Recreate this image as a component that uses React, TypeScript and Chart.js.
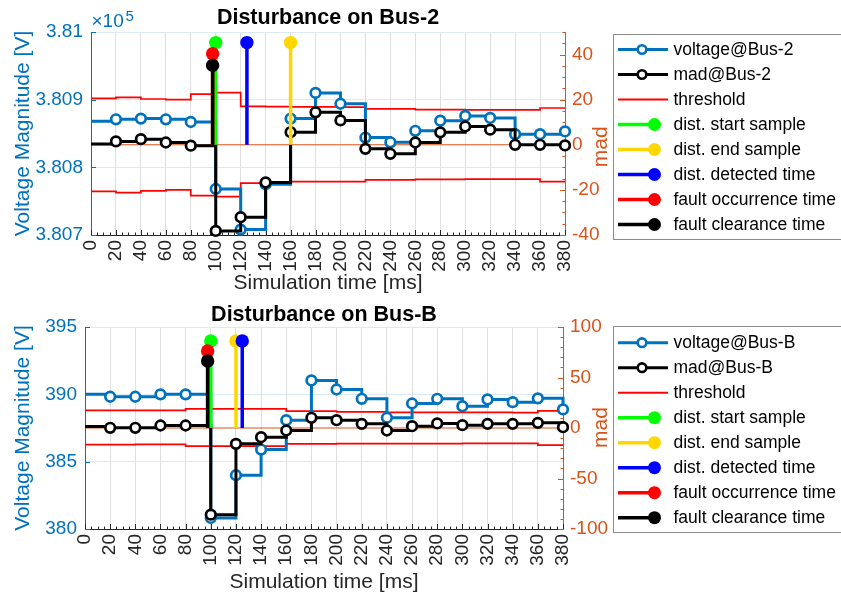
import React, { useEffect, useRef } from "react";
import { Chart, registerables } from "chart.js";

Chart.register(...registerables);

// ---------------- data ----------------
const timeMs = [0, 20, 40, 60, 80, 100, 120, 140, 160, 180, 200, 220, 240, 260, 280, 300, 320, 340, 360, 380];

const bus2Voltage = [380868, 380871, 380872, 380871, 380867, 380768, 380708, 380775, 380872, 380910, 380894, 380844, 380837, 380854, 380869, 380876, 380873, 380849, 380849, 380853];
const bus2Mad = [0.4, 1.5, 2.5, 1.0, -0.4, -38.2, -32.1, -16.7, 5.6, 14.4, 10.8, -1.8, -4.0, 1.0, 5.5, 8.1, 6.7, 0.0, 0.0, -0.3];
const bus2ThresholdUpper = [20.6, 21.0, 20.3, 20.0, 22.5, 23.1, 17.0, 16.9, 16.8, 16.8, 16.7, 15.9, 15.9, 15.6, 15.6, 15.5, 15.5, 15.5, 16.3, 16.3];
const bus2ThresholdLower = [-20.7, -21.2, -20.4, -20.0, -22.5, -23.0, -17.0, -16.7, -16.3, -16.3, -16.3, -15.6, -15.6, -15.3, -15.3, -15.2, -15.2, -15.2, -16.3, -16.3];
const bus2EventTimes = [100, 160, 125, 97.5, 97.5];
const bus2EventLevels = [45.3, 45.3, 45.3, 40.4, 35.2];

const busBVoltage = [390.0, 389.82, 389.82, 390.0, 390.0, 380.82, 383.99, 385.9, 388.08, 391.03, 390.36, 389.67, 388.26, 389.32, 389.67, 389.12, 389.62, 389.42, 389.7, 388.88];
const busBMad = [1.5, 0.2, 0.2, 2.5, 2.5, -85.8, -15.7, -9.1, -2.5, 10.1, 7.7, 4.1, -2.5, 1.8, 4.5, 2.8, 4.1, 4.1, 5.1, 0.8];
const busBThresholdUpper = [17.4, 17.4, 17.4, 17.4, 19.0, 19.0, 19.0, 19.0, 16.7, 16.7, 16.0, 16.0, 15.5, 15.5, 15.5, 15.4, 15.4, 15.3, 17.0, 17.0];
const busBThresholdLower = [-16.4, -16.4, -16.2, -16.2, -18.0, -18.0, -18.0, -18.0, -15.8, -15.8, -15.5, -15.5, -15.4, -15.4, -15.4, -15.3, -15.3, -15.3, -17.0, -17.0];
const busBEventTimes = [100, 120, 125, 97.5, 97.5];
const busBEventLevels = [86.1, 86.1, 86.1, 76.2, 66.3];

const eventNames = ["dist. start sample", "dist. end sample", "dist. detected time", "fault occurrence time", "fault clearance time"];

const xTickValues = [0, 20, 40, 60, 80, 100, 120, 140, 160, 180, 200, 220, 240, 260, 280, 300, 320, 340, 360, 380];
const bus2LeftTicks = [380700, 380800, 380900, 381000];
const bus2LeftTickLabels = ["3.807", "3.808", "3.809", "3.81"];
const bus2RightTicks = [-40, -20, 0, 20, 40];
const busBLeftTicks = [380, 385, 390, 395];
const busBLeftTickLabels = ["380", "385", "390", "395"];
const busBRightTicks = [-100, -50, 0, 50, 100];

// ---------------- styles ----------------
const FONT = "'Liberation Sans', Arial, Helvetica, sans-serif";
const BLUE = "#0072BD";
const ORANGE = "#D95319";
const AXIS_DARK = "#262626";
const eventColors = ["#00FF00", "#FFD700", "#0000FF", "#FF0000", "#000000"];

type Panel = {
  canvasH: number;
  area: { l: number; t: number; r: number; b: number };
  title: string;
  titleY: number;
  xLabelY: number;
  yLabelX: number;
  madX: number;
  madY: number;
  legend: { left: number; top: number; bottom: number; row0: number; step: number };
  exponent: boolean;
  busName: string;
  voltage: number[];
  mad: number[];
  thrUp: number[];
  thrLo: number[];
  eventTimes: number[];
  eventLevels: number[];
  leftTicks: number[];
  leftLabels: string[];
  leftMin: number;
  leftMax: number;
  rightTicks: number[];
  rightMin: number;
  rightMax: number;
  rightMinorStep: number;
};

const panels: Panel[] = [
  {
    canvasH: 297,
    area: { l: 91, t: 32, r: 565, b: 235 },
    title: "Disturbance on Bus-2",
    titleY: 23.5,
    xLabelY: 288.5,
    yLabelX: 28.5,
    madX: 607,
    madY: 146.7,
    legend: { left: 613.5, top: 34.5, bottom: 239.5, row0: 49.5, step: 25 },
    exponent: true,
    busName: "Bus-2",
    voltage: bus2Voltage,
    mad: bus2Mad,
    thrUp: bus2ThresholdUpper,
    thrLo: bus2ThresholdLower,
    eventTimes: bus2EventTimes,
    eventLevels: bus2EventLevels,
    leftTicks: bus2LeftTicks,
    leftLabels: bus2LeftTickLabels,
    leftMin: 380700,
    leftMax: 381000,
    rightTicks: bus2RightTicks,
    rightMin: -40,
    rightMax: 50,
    rightMinorStep: 5,
  },
  {
    canvasH: 297,
    area: { l: 85, t: 30, r: 563, b: 232 },
    title: "Disturbance on Bus-B",
    titleY: 23.7,
    xLabelY: 290.5,
    yLabelX: 28.5,
    madX: 607,
    madY: 130.5,
    legend: { left: 613.5, top: 29.5, bottom: 235.5, row0: 45.7, step: 25 },
    exponent: false,
    busName: "Bus-B",
    voltage: busBVoltage,
    mad: busBMad,
    thrUp: busBThresholdUpper,
    thrLo: busBThresholdLower,
    eventTimes: busBEventTimes,
    eventLevels: busBEventLevels,
    leftTicks: busBLeftTicks,
    leftLabels: busBLeftTickLabels,
    leftMin: 380,
    leftMax: 395,
    rightTicks: busBRightTicks,
    rightMin: -100,
    rightMax: 100,
    rightMinorStep: 10,
  },
];

function series(values: number[]) {
  return timeMs.map((t, i) => ({ x: t, y: values[i] }));
}

function makeConfig(p: Panel): any {
  const W = 841;
  const Y1W = 60;
  const XH = 40;
  const MARKER_R = 4.8;
  const MARKER_BW = 2.7;
  const datasets: any[] = [];

  datasets.push({
    label: "threshold",
    data: series(p.thrUp),
    yAxisID: "y1",
    borderColor: "#FF0000",
    borderWidth: 1.7,
    stepped: true,
    pointRadius: 0,
    order: 20,
    clip: false,
  });
  datasets.push({
    label: "threshold-lower",
    data: series(p.thrLo),
    yAxisID: "y1",
    borderColor: "#FF0000",
    borderWidth: 1.7,
    stepped: true,
    pointRadius: 0,
    order: 19,
    clip: false,
  });
  datasets.push({
    label: "baseline",
    data: [
      { x: xTickValues[0], y: 0 },
      { x: xTickValues[xTickValues.length - 1], y: 0 },
    ],
    yAxisID: "y1",
    borderColor: ORANGE,
    borderWidth: 1,
    pointRadius: 0,
    order: 18,
    clip: false,
  });
  datasets.push({
    label: "voltage@" + p.busName,
    data: series(p.voltage),
    yAxisID: "y",
    borderColor: BLUE,
    borderWidth: 3,
    stepped: true,
    pointRadius: (c: any) => (c.dataIndex === 0 ? 0 : MARKER_R),
    pointBorderWidth: MARKER_BW,
    pointBorderColor: BLUE,
    pointBackgroundColor: "#FFFFFF",
    order: 17,
    clip: false,
  });
  datasets.push({
    label: "mad@" + p.busName,
    data: series(p.mad),
    yAxisID: "y1",
    borderColor: "#000000",
    borderWidth: 3,
    stepped: true,
    pointRadius: (c: any) => (c.dataIndex === 0 ? 0 : MARKER_R),
    pointBorderWidth: MARKER_BW,
    pointBorderColor: "#000000",
    pointBackgroundColor: "#FFFFFF",
    order: 16,
    clip: false,
  });
  p.eventTimes.forEach((t, i) => {
    datasets.push({
      label: eventNames[i],
      data: [
        { x: t, y: 0 },
        { x: t, y: p.eventLevels[i] },
      ],
      yAxisID: "y1",
      borderColor: eventColors[i],
      borderWidth: 3.5,
      pointRadius: (c: any) => (c.dataIndex === 0 ? 0 : 6.7),
      pointBorderWidth: 0,
      pointBackgroundColor: eventColors[i],
      pointBorderColor: eventColors[i],
      order: 10 - i,
      clip: false,
    });
  });

  const legendItems: { label: string; color: string; kind: string }[] = [
    { label: "voltage@" + p.busName, color: BLUE, kind: "marker" },
    { label: "mad@" + p.busName, color: "#000000", kind: "marker" },
    { label: "threshold", color: "#FF0000", kind: "line" },
    ...eventNames.map((n, i) => ({ label: n, color: eventColors[i], kind: "stem" })),
  ];

  const decor = {
    id: "matlabDecor",
    beforeDatasetsDraw(chart: any) {
      const { ctx, chartArea: a, scales } = chart;
      const xs = scales.x;
      const yl = scales.y;
      const yr = scales.y1;
      const al = (v: number) => Math.round(v) + 0.5;
      ctx.save();
      ctx.lineWidth = 1;
      // x ticks (inward, up)
      ctx.strokeStyle = AXIS_DARK;
      ctx.beginPath();
      for (let i = 0; i < xTickValues.length; i++) {
        const v = xTickValues[i];
        const px = al(xs.getPixelForValue(v));
        ctx.moveTo(px, a.bottom);
        ctx.lineTo(px, a.bottom - 5);
        if (i < xTickValues.length - 1) {
          const step = (xTickValues[i + 1] - v) / 4;
          for (let k = 1; k < 4; k++) {
            const mx = al(xs.getPixelForValue(v + k * step));
            ctx.moveTo(mx, a.bottom);
            ctx.lineTo(mx, a.bottom - 2.5);
          }
        }
      }
      ctx.stroke();
      // left ticks (inward, right)
      ctx.strokeStyle = BLUE;
      ctx.beginPath();
      p.leftTicks.forEach((v) => {
        const py = al(yl.getPixelForValue(v));
        ctx.moveTo(a.left, py);
        ctx.lineTo(a.left + 5, py);
      });
      ctx.stroke();
      // right ticks (inward, left)
      ctx.strokeStyle = ORANGE;
      ctx.beginPath();
      for (let v = p.rightMin; v <= p.rightMax + 1e-9; v += p.rightMinorStep) {
        const py = al(yr.getPixelForValue(v));
        const major = p.rightTicks.indexOf(v) >= 0;
        ctx.moveTo(a.right, py);
        ctx.lineTo(a.right - (major ? 5 : 2.5), py);
      }
      ctx.stroke();
      ctx.restore();
    },
    afterDraw(chart: any) {
      const { ctx, chartArea: a } = chart;
      const cx = (a.left + a.right) / 2;
      const cy = (a.top + a.bottom) / 2;
      ctx.save();
      // title
      ctx.fillStyle = "#000000";
      ctx.font = `bold 21.5px ${FONT}`;
      ctx.textAlign = "center";
      ctx.textBaseline = "alphabetic";
      ctx.fillText(p.title, cx, p.titleY);
      // x label
      ctx.fillStyle = AXIS_DARK;
      ctx.font = `21px ${FONT}`;
      ctx.fillText("Simulation time [ms]", cx, p.xLabelY);
      // y label
      ctx.save();
      ctx.translate(p.yLabelX, cy);
      ctx.rotate(-Math.PI / 2);
      ctx.fillStyle = BLUE;
      ctx.fillText("Voltage Magnitude [V]", 0, 0);
      ctx.restore();
      // mad label
      ctx.save();
      ctx.translate(p.madX, p.madY);
      ctx.rotate(-Math.PI / 2);
      ctx.fillStyle = ORANGE;
      ctx.fillText("mad", 0, 0);
      ctx.restore();
      // exponent
      if (p.exponent) {
        ctx.fillStyle = BLUE;
        ctx.textAlign = "left";
        ctx.font = `19px ${FONT}`;
        ctx.fillText("\u00d710", a.left + 0.5, 27.3);
        ctx.font = `15px ${FONT}`;
        ctx.fillText("5", a.left + 34.5, 20.7);
      }
      // legend
      const L = p.legend;
      ctx.fillStyle = "#FFFFFF";
      ctx.fillRect(L.left, L.top, 860 - L.left, L.bottom - L.top);
      ctx.strokeStyle = "#8C8C8C";
      ctx.lineWidth = 1;
      ctx.strokeRect(L.left, L.top, 860 - L.left, L.bottom - L.top);
      ctx.font = `17.5px ${FONT}`;
      ctx.textAlign = "left";
      ctx.textBaseline = "middle";
      legendItems.forEach((it, i) => {
        const y = L.row0 + i * L.step;
        const x0 = L.left + 4.5;
        ctx.strokeStyle = it.color;
        if (it.kind === "marker") {
          ctx.lineWidth = 3;
          ctx.beginPath();
          ctx.moveTo(x0, y);
          ctx.lineTo(x0 + 50, y);
          ctx.stroke();
          ctx.beginPath();
          ctx.arc(x0 + 24, y, 4.3, 0, Math.PI * 2);
          ctx.fillStyle = "#FFFFFF";
          ctx.fill();
          ctx.lineWidth = 2.6;
          ctx.stroke();
        } else if (it.kind === "line") {
          ctx.lineWidth = 2;
          ctx.beginPath();
          ctx.moveTo(x0, y);
          ctx.lineTo(x0 + 50, y);
          ctx.stroke();
        } else {
          ctx.lineWidth = 3.5;
          ctx.beginPath();
          ctx.moveTo(x0, y);
          ctx.lineTo(x0 + 36.5, y);
          ctx.stroke();
          ctx.beginPath();
          ctx.arc(x0 + 36.5, y, 6.5, 0, Math.PI * 2);
          ctx.fillStyle = it.color;
          ctx.fill();
        }
        ctx.fillStyle = "#000000";
        ctx.fillText(it.label, L.left + 60, y + 0.5);
      });
      ctx.restore();
    },
  };

  return {
    type: "line",
    data: { datasets },
    plugins: [decor],
    options: {
      responsive: false,
      maintainAspectRatio: false,
      animation: false,
      devicePixelRatio: 1,
      events: [],
      layout: {
        padding: {
          left: 0,
          top: p.area.t,
          right: W - p.area.r - Y1W,
          bottom: p.canvasH - p.area.b - XH,
        },
      },
      plugins: {
        legend: { display: false },
        tooltip: { enabled: false },
        title: { display: false },
      },
      scales: {
        x: {
          type: "linear",
          position: "bottom",
          min: xTickValues[0],
          max: xTickValues[xTickValues.length - 1],
          afterBuildTicks: (s: any) => {
            s.ticks = xTickValues.map((v) => ({ value: v }));
          },
          afterFit: (s: any) => {
            s.height = XH;
          },
          ticks: {
            autoSkip: false,
            maxRotation: 90,
            minRotation: 90,
            padding: 5,
            color: AXIS_DARK,
            font: { family: FONT, size: 19 },
            callback: (v: any) => String(v),
          },
          grid: { color: "#DFDFDF", lineWidth: 1, drawTicks: false },
          border: { color: AXIS_DARK, width: 1 },
        },
        y: {
          type: "linear",
          position: "left",
          min: p.leftMin,
          max: p.leftMax,
          afterBuildTicks: (s: any) => {
            s.ticks = p.leftTicks.map((v) => ({ value: v }));
          },
          afterFit: (s: any) => {
            s.width = p.area.l;
          },
          ticks: {
            padding: 8,
            color: BLUE,
            font: { family: FONT, size: 19 },
            callback: (v: any) => {
              const i = p.leftTicks.indexOf(Number(v));
              return i >= 0 ? p.leftLabels[i] : "";
            },
          },
          grid: { color: "#D9EAF5", lineWidth: 1, drawTicks: false },
          border: { color: BLUE, width: 1 },
        },
        y1: {
          type: "linear",
          position: "right",
          min: p.rightMin,
          max: p.rightMax,
          afterBuildTicks: (s: any) => {
            s.ticks = p.rightTicks.map((v) => ({ value: v }));
          },
          afterFit: (s: any) => {
            s.width = Y1W;
          },
          ticks: {
            padding: 7,
            color: ORANGE,
            font: { family: FONT, size: 19 },
            callback: (v: any) => String(v),
          },
          grid: { display: false, drawTicks: false },
          border: { color: ORANGE, width: 1 },
        },
      },
    },
  };
}

function PanelChart({ panel, top }: { panel: Panel; top: number }) {
  const ref = useRef<HTMLCanvasElement | null>(null);
  useEffect(() => {
    if (!ref.current) return;
    const chart = new Chart(ref.current, makeConfig(panel));
    return () => chart.destroy();
  }, [panel]);
  return (
    <canvas
      ref={ref}
      width={841}
      height={panel.canvasH}
      style={{ position: "absolute", left: 0, top, width: 841, height: panel.canvasH, display: "block" }}
    />
  );
}

export default function App() {
  return (
    <div style={{ position: "absolute", left: 0, top: 0, width: 841, height: 594, background: "#FFFFFF", overflow: "hidden" }}>
      <PanelChart panel={panels[0]} top={0} />
      <PanelChart panel={panels[1]} top={297} />
    </div>
  );
}
